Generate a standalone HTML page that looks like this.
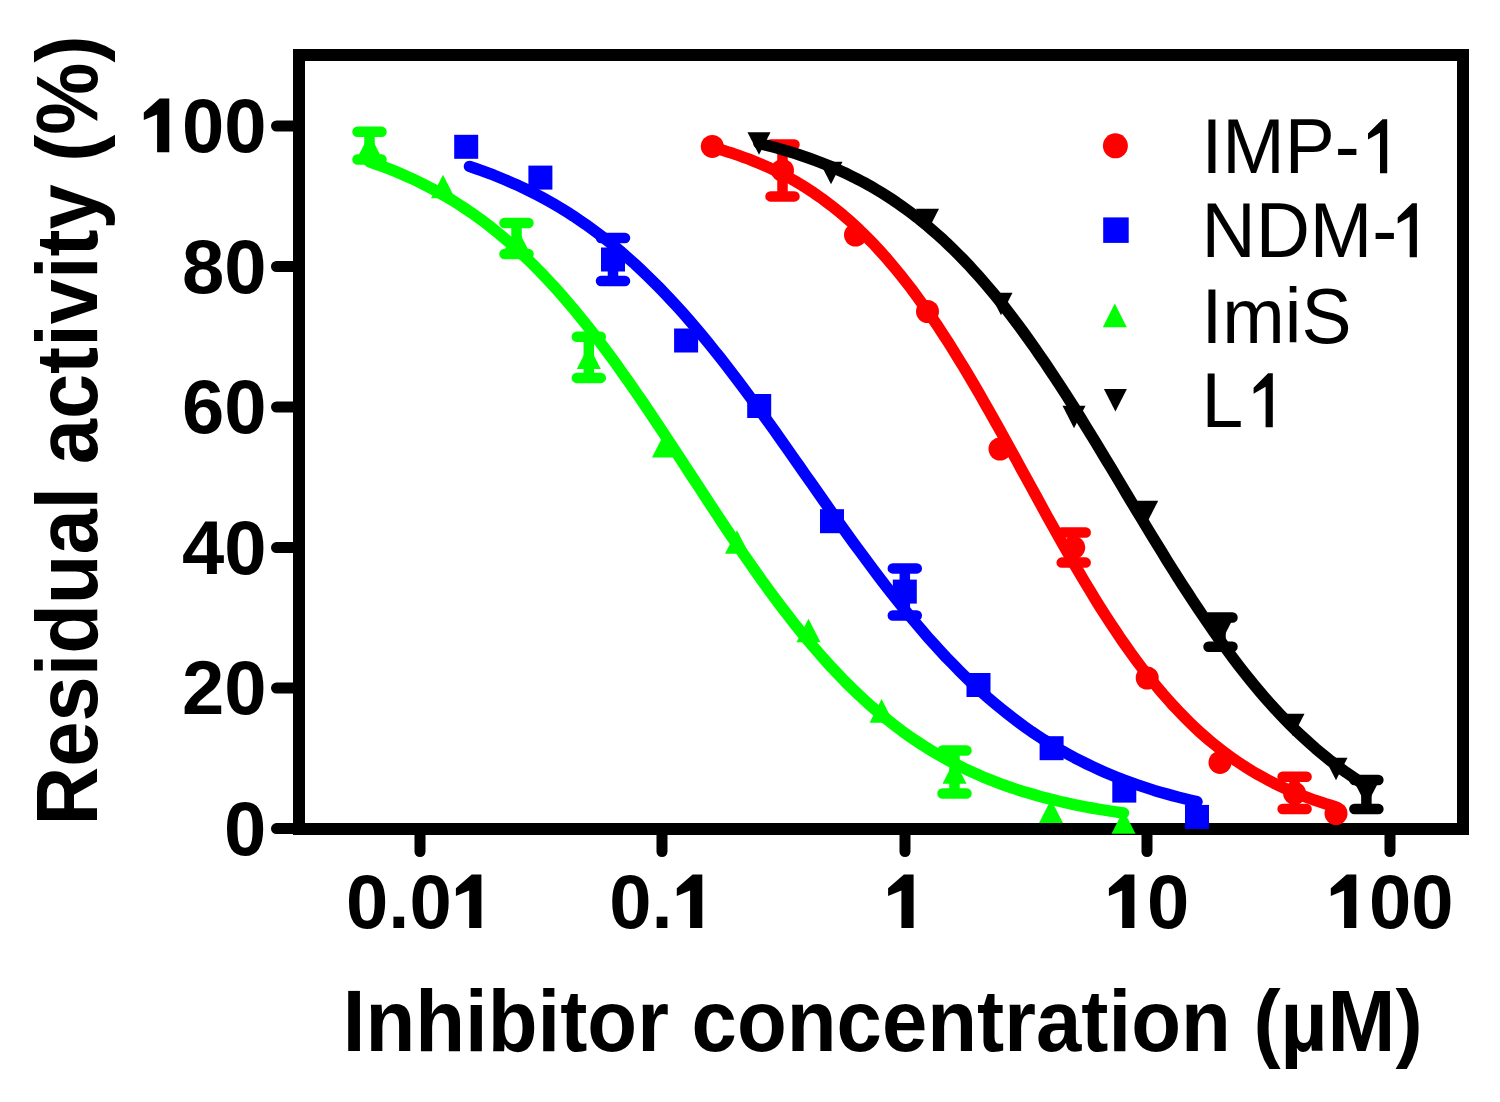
<!DOCTYPE html><html><head><meta charset="utf-8"><title>Residual activity</title><style>html,body{margin:0;padding:0;background:#fff;overflow:hidden}svg{display:block}text{font-family:"Liberation Sans",sans-serif}</style></head><body>
<svg width="1500" height="1102" viewBox="0 0 1500 1102">
<rect width="1500" height="1102" fill="#fff"/>
<rect x="299" y="55" width="1164" height="774" fill="none" stroke="#000" stroke-width="12"/>
<line x1="276.5" y1="126.0" x2="299" y2="126.0" stroke="#000" stroke-width="11" stroke-linecap="round"/>
<line x1="276.5" y1="266.5" x2="299" y2="266.5" stroke="#000" stroke-width="11" stroke-linecap="round"/>
<line x1="276.5" y1="407.0" x2="299" y2="407.0" stroke="#000" stroke-width="11" stroke-linecap="round"/>
<line x1="276.5" y1="547.6" x2="299" y2="547.6" stroke="#000" stroke-width="11" stroke-linecap="round"/>
<line x1="276.5" y1="688.1" x2="299" y2="688.1" stroke="#000" stroke-width="11" stroke-linecap="round"/>
<line x1="276.5" y1="828.6" x2="299" y2="828.6" stroke="#000" stroke-width="11" stroke-linecap="round"/>
<line x1="420.0" y1="829" x2="420.0" y2="851.5" stroke="#000" stroke-width="11" stroke-linecap="round"/>
<line x1="662.0" y1="829" x2="662.0" y2="851.5" stroke="#000" stroke-width="11" stroke-linecap="round"/>
<line x1="905.0" y1="829" x2="905.0" y2="851.5" stroke="#000" stroke-width="11" stroke-linecap="round"/>
<line x1="1147.0" y1="829" x2="1147.0" y2="851.5" stroke="#000" stroke-width="11" stroke-linecap="round"/>
<line x1="1390.0" y1="829" x2="1390.0" y2="851.5" stroke="#000" stroke-width="11" stroke-linecap="round"/>
<path d="M159.6 98.6 L169.3 98.6 L169.3 152.2 L157.1 152.2 L157.1 114.6 L143.8 120.1 L143.8 112.5 Z" fill="#000"/>
<text x="181.9" y="152.2" font-size="76" font-weight="bold">00</text>
<text x="181.9" y="292.7" font-size="76" font-weight="bold">80</text>
<text x="181.9" y="433.2" font-size="76" font-weight="bold">60</text>
<text x="181.9" y="573.8" font-size="76" font-weight="bold">40</text>
<text x="181.9" y="714.3" font-size="76" font-weight="bold">20</text>
<text x="224.1" y="854.8" font-size="76" font-weight="bold">0</text>
<text x="346.0" y="928.0" font-size="76" font-weight="bold">0.0</text>
<path d="M471.7 874.4 L481.4 874.4 L481.4 928.0 L469.2 928.0 L469.2 890.4 L455.9 895.9 L455.9 888.3 Z" fill="#000"/>
<text x="609.2" y="928.0" font-size="76" font-weight="bold">0.</text>
<path d="M692.6 874.4 L702.3 874.4 L702.3 928.0 L690.1 928.0 L690.1 890.4 L676.8 895.9 L676.8 888.3 Z" fill="#000"/>
<path d="M903.9 874.4 L913.6 874.4 L913.6 928.0 L901.4 928.0 L901.4 890.4 L888.1 895.9 L888.1 888.3 Z" fill="#000"/>
<path d="M1124.7 874.4 L1134.4 874.4 L1134.4 928.0 L1122.2 928.0 L1122.2 890.4 L1108.9 895.9 L1108.9 888.3 Z" fill="#000"/>
<text x="1147.0" y="928.0" font-size="76" font-weight="bold">0</text>
<path d="M1346.6 874.4 L1356.3 874.4 L1356.3 928.0 L1344.1 928.0 L1344.1 890.4 L1330.8 895.9 L1330.8 888.3 Z" fill="#000"/>
<text x="1368.9" y="928.0" font-size="76" font-weight="bold">00</text>
<text transform="translate(342.8 1051.3) scale(0.9375 1)" font-size="87" font-weight="bold">Inhibitor concentration (&#181;M)</text>
<text transform="translate(97.3 825.4) rotate(-90) scale(0.934 1)" font-size="87" font-weight="bold">Residual activity (%)</text>
<circle cx="1115.4" cy="145.8" r="12.5" fill="#ff0000"/>
<text transform="translate(1201.5 173.2) scale(0.962 1)" font-size="78">IMP-</text>
<path d="M1382.5 119.2 L1387.2 119.2 L1387.2 173.2 L1380.0 173.2 L1380.0 132.7 L1368.0 139.6 L1368.0 133.6 Z" fill="#000"/>
<rect x="1103.2" y="217.4" width="25.5" height="25.5" fill="#0000ff"/>
<text transform="translate(1201.5 257.2) scale(0.962 1)" font-size="78">NDM-</text>
<path d="M1412.2 203.2 L1416.9 203.2 L1416.9 257.2 L1409.7 257.2 L1409.7 216.7 L1397.7 223.6 L1397.7 217.6 Z" fill="#000"/>
<path d="M1114.8 303.6 L1126.8 327.2 L1102.8 327.2 Z" fill="#00ff00"/>
<text transform="translate(1201.5 343.2) scale(0.962 1)" font-size="78">ImiS</text>
<path d="M1103.9 388.9 L1126.9 388.9 L1115.4 411.5 Z" fill="#000000"/>
<text transform="translate(1201.5 427.3) scale(0.962 1)" font-size="78">L</text>
<path d="M1268.1 373.3 L1272.8 373.3 L1272.8 427.3 L1265.6 427.3 L1265.6 386.8 L1253.6 393.7 L1253.6 387.7 Z" fill="#000"/>
<path d="M712.3 147.2 L717.5 148.7 L722.8 150.3 L728.0 151.9 L733.3 153.6 L738.5 155.4 L743.7 157.3 L749.0 159.2 L754.2 161.3 L759.5 163.5 L764.7 165.8 L770.0 168.1 L775.2 170.6 L780.4 173.2 L785.7 176.0 L790.9 178.8 L796.2 181.8 L801.4 184.9 L806.6 188.2 L811.9 191.6 L817.1 195.2 L822.4 198.9 L827.6 202.8 L832.8 206.8 L838.1 211.0 L843.3 215.3 L848.6 219.9 L853.8 224.6 L859.1 229.5 L864.3 234.6 L869.5 239.9 L874.8 245.3 L880.0 251.0 L885.3 256.8 L890.5 262.9 L895.7 269.1 L901.0 275.6 L906.2 282.2 L911.5 289.0 L916.7 296.1 L921.9 303.3 L927.2 310.7 L932.4 318.3 L937.7 326.1 L942.9 334.1 L948.2 342.2 L953.4 350.5 L958.6 359.0 L963.9 367.6 L969.1 376.3 L974.4 385.2 L979.6 394.2 L984.8 403.3 L990.1 412.6 L995.3 421.9 L1000.6 431.3 L1005.8 440.7 L1011.0 450.3 L1016.3 459.8 L1021.5 469.4 L1026.8 479.0 L1032.0 488.5 L1037.3 498.1 L1042.5 507.7 L1047.7 517.2 L1053.0 526.6 L1058.2 536.0 L1063.5 545.3 L1068.7 554.5 L1073.9 563.5 L1079.2 572.5 L1084.4 581.4 L1089.7 590.1 L1094.9 598.7 L1100.1 607.1 L1105.4 615.3 L1110.6 623.4 L1115.9 631.3 L1121.1 639.1 L1126.4 646.6 L1131.6 654.0 L1136.8 661.1 L1142.1 668.1 L1147.3 674.9 L1152.6 681.5 L1157.8 687.8 L1163.0 694.0 L1168.3 700.0 L1173.5 705.8 L1178.8 711.4 L1184.0 716.8 L1189.2 722.0 L1194.5 727.1 L1199.7 731.9 L1205.0 736.6 L1210.2 741.1 L1215.5 745.4 L1220.7 749.5 L1225.9 753.5 L1231.2 757.3 L1236.4 761.0 L1241.7 764.5 L1246.9 767.9 L1252.1 771.1 L1257.4 774.2 L1262.6 777.1 L1267.9 780.0 L1273.1 782.7 L1278.3 785.2 L1283.6 787.7 L1288.8 790.1 L1294.1 792.3 L1299.3 794.4 L1304.6 796.5 L1309.8 798.4 L1315.0 800.3 L1320.3 802.0 L1325.5 803.7 L1330.8 805.3 L1336.0 806.9" fill="none" stroke="#ff0000" stroke-width="11.5" stroke-linecap="round" stroke-linejoin="round"/>
<circle cx="712.3" cy="146.4" r="11.5" fill="#ff0000"/>
<path d="M782.5 144.5 L782.5 196.4 M770.5 144.5 L794.5 144.5 M770.5 196.4 L794.5 196.4" stroke="#ff0000" stroke-width="10.5" stroke-linecap="round" fill="none"/>
<circle cx="782.5" cy="170.4" r="11.5" fill="#ff0000"/>
<circle cx="855.5" cy="235.0" r="11.5" fill="#ff0000"/>
<circle cx="927.5" cy="311.5" r="11.5" fill="#ff0000"/>
<circle cx="1000.0" cy="449.0" r="11.5" fill="#ff0000"/>
<path d="M1073.7 532.5 L1073.7 562.6 M1061.7 532.5 L1085.7 532.5 M1061.7 562.6 L1085.7 562.6" stroke="#ff0000" stroke-width="10.5" stroke-linecap="round" fill="none"/>
<circle cx="1073.7" cy="547.6" r="11.5" fill="#ff0000"/>
<circle cx="1147.2" cy="678.0" r="11.5" fill="#ff0000"/>
<circle cx="1220.0" cy="762.4" r="11.5" fill="#ff0000"/>
<path d="M1294.6 776.8 L1294.6 809.0 M1282.6 776.8 L1306.6 776.8 M1282.6 809.0 L1306.6 809.0" stroke="#ff0000" stroke-width="10.5" stroke-linecap="round" fill="none"/>
<circle cx="1294.6" cy="793.3" r="11.5" fill="#ff0000"/>
<circle cx="1336.0" cy="813.5" r="11.5" fill="#ff0000"/>
<path d="M469.5 166.4 L475.6 168.5 L481.7 170.6 L487.8 172.9 L494.0 175.2 L500.1 177.7 L506.2 180.2 L512.3 182.9 L518.4 185.6 L524.5 188.5 L530.6 191.5 L536.7 194.6 L542.9 197.9 L549.0 201.3 L555.1 204.8 L561.2 208.4 L567.3 212.2 L573.4 216.1 L579.5 220.2 L585.7 224.4 L591.8 228.8 L597.9 233.3 L604.0 238.0 L610.1 242.8 L616.2 247.8 L622.3 253.0 L628.4 258.3 L634.6 263.8 L640.7 269.5 L646.8 275.3 L652.9 281.3 L659.0 287.4 L665.1 293.7 L671.2 300.2 L677.4 306.9 L683.5 313.7 L689.6 320.6 L695.7 327.7 L701.8 335.0 L707.9 342.4 L714.0 350.0 L720.2 357.7 L726.3 365.5 L732.4 373.4 L738.5 381.4 L744.6 389.6 L750.7 397.9 L756.8 406.2 L762.9 414.6 L769.1 423.2 L775.2 431.7 L781.3 440.3 L787.4 449.0 L793.5 457.7 L799.6 466.4 L805.7 475.2 L811.9 483.9 L818.0 492.6 L824.1 501.4 L830.2 510.0 L836.3 518.7 L842.4 527.3 L848.5 535.8 L854.6 544.3 L860.8 552.6 L866.9 560.9 L873.0 569.1 L879.1 577.2 L885.2 585.2 L891.3 593.1 L897.4 600.8 L903.6 608.4 L909.7 615.8 L915.8 623.2 L921.9 630.3 L928.0 637.4 L934.1 644.2 L940.2 650.9 L946.3 657.5 L952.5 663.8 L958.6 670.1 L964.7 676.1 L970.8 682.0 L976.9 687.7 L983.0 693.3 L989.1 698.7 L995.3 703.9 L1001.4 708.9 L1007.5 713.8 L1013.6 718.6 L1019.7 723.2 L1025.8 727.6 L1031.9 731.9 L1038.1 736.0 L1044.2 740.0 L1050.3 743.8 L1056.4 747.5 L1062.5 751.1 L1068.6 754.5 L1074.7 757.8 L1080.8 760.9 L1087.0 764.0 L1093.1 766.9 L1099.2 769.7 L1105.3 772.4 L1111.4 775.0 L1117.5 777.5 L1123.6 779.9 L1129.8 782.1 L1135.9 784.3 L1142.0 786.4 L1148.1 788.4 L1154.2 790.4 L1160.3 792.2 L1166.4 793.9 L1172.5 795.6 L1178.7 797.2 L1184.8 798.8 L1190.9 800.3 L1197.0 801.7" fill="none" stroke="#0000ff" stroke-width="11.5" stroke-linecap="round" stroke-linejoin="round"/>
<rect x="454.2" y="134.8" width="24.0" height="24.0" fill="#0000ff"/>
<rect x="528.4" y="165.6" width="24.0" height="24.0" fill="#0000ff"/>
<path d="M613.0 238.0 L613.0 281.0 M601.0 238.0 L625.0 238.0 M601.0 281.0 L625.0 281.0" stroke="#0000ff" stroke-width="10.5" stroke-linecap="round" fill="none"/>
<rect x="601.0" y="247.5" width="24.0" height="24.0" fill="#0000ff"/>
<rect x="674.1" y="328.5" width="24.0" height="24.0" fill="#0000ff"/>
<rect x="747.2" y="394.0" width="24.0" height="24.0" fill="#0000ff"/>
<rect x="820.0" y="509.2" width="24.0" height="24.0" fill="#0000ff"/>
<path d="M904.8 568.4 L904.8 615.5 M892.8 568.4 L916.8 568.4 M892.8 615.5 L916.8 615.5" stroke="#0000ff" stroke-width="10.5" stroke-linecap="round" fill="none"/>
<rect x="892.8" y="579.6" width="24.0" height="24.0" fill="#0000ff"/>
<rect x="966.5" y="673.0" width="24.0" height="24.0" fill="#0000ff"/>
<rect x="1039.6" y="736.2" width="24.0" height="24.0" fill="#0000ff"/>
<rect x="1112.3" y="778.6" width="24.0" height="24.0" fill="#0000ff"/>
<rect x="1185.0" y="804.9" width="24.0" height="24.0" fill="#0000ff"/>
<path d="M369.5 161.8 L375.8 164.0 L382.2 166.3 L388.5 168.7 L394.8 171.2 L401.2 173.9 L407.5 176.7 L413.9 179.6 L420.2 182.6 L426.5 185.8 L432.9 189.1 L439.2 192.6 L445.5 196.2 L451.9 200.0 L458.2 204.0 L464.5 208.1 L470.9 212.4 L477.2 216.9 L483.6 221.5 L489.9 226.4 L496.2 231.4 L502.6 236.7 L508.9 242.1 L515.2 247.7 L521.6 253.5 L527.9 259.5 L534.2 265.8 L540.6 272.2 L546.9 278.9 L553.2 285.7 L559.6 292.7 L565.9 300.0 L572.3 307.4 L578.6 315.1 L584.9 322.9 L591.3 330.9 L597.6 339.1 L603.9 347.5 L610.3 356.0 L616.6 364.7 L622.9 373.6 L629.3 382.6 L635.6 391.7 L642.0 400.9 L648.3 410.3 L654.6 419.7 L661.0 429.2 L667.3 438.8 L673.6 448.4 L680.0 458.1 L686.3 467.8 L692.6 477.5 L699.0 487.2 L705.3 496.9 L711.7 506.6 L718.0 516.2 L724.3 525.7 L730.7 535.2 L737.0 544.6 L743.3 553.9 L749.7 563.0 L756.0 572.1 L762.3 581.0 L768.7 589.8 L775.0 598.4 L781.3 606.8 L787.7 615.1 L794.0 623.2 L800.4 631.1 L806.7 638.9 L813.0 646.4 L819.4 653.7 L825.7 660.9 L832.0 667.8 L838.4 674.5 L844.7 681.1 L851.0 687.4 L857.4 693.5 L863.7 699.4 L870.1 705.2 L876.4 710.7 L882.7 716.0 L889.1 721.1 L895.4 726.0 L901.7 730.8 L908.1 735.4 L914.4 739.7 L920.7 743.9 L927.1 748.0 L933.4 751.8 L939.8 755.5 L946.1 759.1 L952.4 762.5 L958.8 765.7 L965.1 768.8 L971.4 771.8 L977.8 774.6 L984.1 777.4 L990.4 779.9 L996.8 782.4 L1003.1 784.8 L1009.4 787.0 L1015.8 789.1 L1022.1 791.2 L1028.5 793.1 L1034.8 794.9 L1041.1 796.7 L1047.5 798.4 L1053.8 799.9 L1060.1 801.5 L1066.5 802.9 L1072.8 804.3 L1079.1 805.6 L1085.5 806.8 L1091.8 808.0 L1098.2 809.1 L1104.5 810.1 L1110.8 811.1 L1117.2 812.1 L1123.5 813.0" fill="none" stroke="#00ff00" stroke-width="11.5" stroke-linecap="round" stroke-linejoin="round"/>
<path d="M369.5 131.7 L369.5 159.5 M357.5 131.7 L381.5 131.7 M357.5 159.5 L381.5 159.5" stroke="#00ff00" stroke-width="10.5" stroke-linecap="round" fill="none"/>
<path d="M369.5 133.8 L381.5 157.4 L357.5 157.4 Z" fill="#00ff00"/>
<path d="M443.0 174.7 L455.0 198.3 L431.0 198.3 Z" fill="#00ff00"/>
<path d="M516.5 223.0 L516.5 254.0 M504.5 223.0 L528.5 223.0 M504.5 254.0 L528.5 254.0" stroke="#00ff00" stroke-width="10.5" stroke-linecap="round" fill="none"/>
<path d="M516.5 226.7 L528.5 250.3 L504.5 250.3 Z" fill="#00ff00"/>
<path d="M588.8 336.8 L588.8 377.9 M576.8 336.8 L600.8 336.8 M576.8 377.9 L600.8 377.9" stroke="#00ff00" stroke-width="10.5" stroke-linecap="round" fill="none"/>
<path d="M588.8 345.5 L600.8 369.1 L576.8 369.1 Z" fill="#00ff00"/>
<path d="M664.0 434.0 L676.0 457.6 L652.0 457.6 Z" fill="#00ff00"/>
<path d="M737.0 530.2 L749.0 553.8 L725.0 553.8 Z" fill="#00ff00"/>
<path d="M808.5 618.7 L820.5 642.3 L796.5 642.3 Z" fill="#00ff00"/>
<path d="M881.6 699.1 L893.6 722.7 L869.6 722.7 Z" fill="#00ff00"/>
<path d="M954.5 750.5 L954.5 793.5 M942.5 750.5 L966.5 750.5 M942.5 793.5 L966.5 793.5" stroke="#00ff00" stroke-width="10.5" stroke-linecap="round" fill="none"/>
<path d="M954.5 760.2 L966.5 783.8 L942.5 783.8 Z" fill="#00ff00"/>
<path d="M1051.0 799.5 L1063.0 823.1 L1039.0 823.1 Z" fill="#00ff00"/>
<path d="M1123.5 810.2 L1135.5 833.8 L1111.5 833.8 Z" fill="#00ff00"/>
<path d="M759.0 143.4 L764.1 144.7 L769.2 146.0 L774.3 147.3 L779.4 148.7 L784.5 150.2 L789.6 151.7 L794.7 153.3 L799.8 155.0 L804.9 156.7 L810.0 158.5 L815.1 160.4 L820.3 162.3 L825.4 164.3 L830.5 166.4 L835.6 168.6 L840.7 170.9 L845.8 173.3 L850.9 175.8 L856.0 178.3 L861.1 181.0 L866.2 183.7 L871.3 186.6 L876.4 189.6 L881.5 192.7 L886.6 195.9 L891.7 199.2 L896.8 202.6 L901.9 206.2 L907.0 209.9 L912.1 213.7 L917.2 217.6 L922.3 221.7 L927.4 225.9 L932.5 230.3 L937.6 234.8 L942.8 239.4 L947.9 244.2 L953.0 249.1 L958.1 254.2 L963.2 259.4 L968.3 264.7 L973.4 270.3 L978.5 275.9 L983.6 281.7 L988.7 287.7 L993.8 293.8 L998.9 300.0 L1004.0 306.4 L1009.1 313.0 L1014.2 319.7 L1019.3 326.5 L1024.4 333.5 L1029.5 340.6 L1034.6 347.8 L1039.7 355.2 L1044.8 362.6 L1049.9 370.2 L1055.0 377.9 L1060.1 385.7 L1065.3 393.7 L1070.4 401.7 L1075.5 409.7 L1080.6 417.9 L1085.7 426.2 L1090.8 434.5 L1095.9 442.8 L1101.0 451.2 L1106.1 459.7 L1111.2 468.1 L1116.3 476.6 L1121.4 485.1 L1126.5 493.7 L1131.6 502.2 L1136.7 510.7 L1141.8 519.1 L1146.9 527.6 L1152.0 536.0 L1157.1 544.3 L1162.2 552.6 L1167.3 560.9 L1172.4 569.0 L1177.5 577.1 L1182.6 585.1 L1187.8 593.0 L1192.9 600.8 L1198.0 608.5 L1203.1 616.1 L1208.2 623.6 L1213.3 630.9 L1218.4 638.1 L1223.5 645.2 L1228.6 652.2 L1233.7 659.0 L1238.8 665.7 L1243.9 672.2 L1249.0 678.6 L1254.1 684.9 L1259.2 691.0 L1264.3 696.9 L1269.4 702.7 L1274.5 708.4 L1279.6 713.9 L1284.7 719.2 L1289.8 724.4 L1294.9 729.5 L1300.0 734.4 L1305.1 739.1 L1310.3 743.8 L1315.4 748.3 L1320.5 752.6 L1325.6 756.8 L1330.7 760.9 L1335.8 764.8 L1340.9 768.6 L1346.0 772.3 L1351.1 775.8 L1356.2 779.3 L1361.3 782.6 L1366.4 785.8" fill="none" stroke="#000000" stroke-width="11.5" stroke-linecap="round" stroke-linejoin="round"/>
<path d="M747.5 132.2 L770.5 132.2 L759.0 154.8 Z" fill="#000000"/>
<path d="M819.5 161.7 L842.5 161.7 L831.0 184.3 Z" fill="#000000"/>
<path d="M916.0 208.7 L939.0 208.7 L927.5 231.3 Z" fill="#000000"/>
<path d="M989.5 292.7 L1012.5 292.7 L1001.0 315.3 Z" fill="#000000"/>
<path d="M1062.5 405.7 L1085.5 405.7 L1074.0 428.3 Z" fill="#000000"/>
<path d="M1135.2 500.7 L1158.2 500.7 L1146.7 523.3 Z" fill="#000000"/>
<path d="M1220.5 617.5 L1220.5 646.8 M1208.5 617.5 L1232.5 617.5 M1208.5 646.8 L1232.5 646.8" stroke="#000000" stroke-width="10.5" stroke-linecap="round" fill="none"/>
<path d="M1209.0 620.7 L1232.0 620.7 L1220.5 643.3 Z" fill="#000000"/>
<path d="M1281.5 713.7 L1304.5 713.7 L1293.0 736.3 Z" fill="#000000"/>
<path d="M1324.5 757.7 L1347.5 757.7 L1336.0 780.3 Z" fill="#000000"/>
<path d="M1366.4 780.0 L1366.4 809.0 M1354.4 780.0 L1378.4 780.0 M1354.4 809.0 L1378.4 809.0" stroke="#000000" stroke-width="10.5" stroke-linecap="round" fill="none"/>
<path d="M1354.9 783.2 L1377.9 783.2 L1366.4 805.8 Z" fill="#000000"/>
</svg></body></html>
